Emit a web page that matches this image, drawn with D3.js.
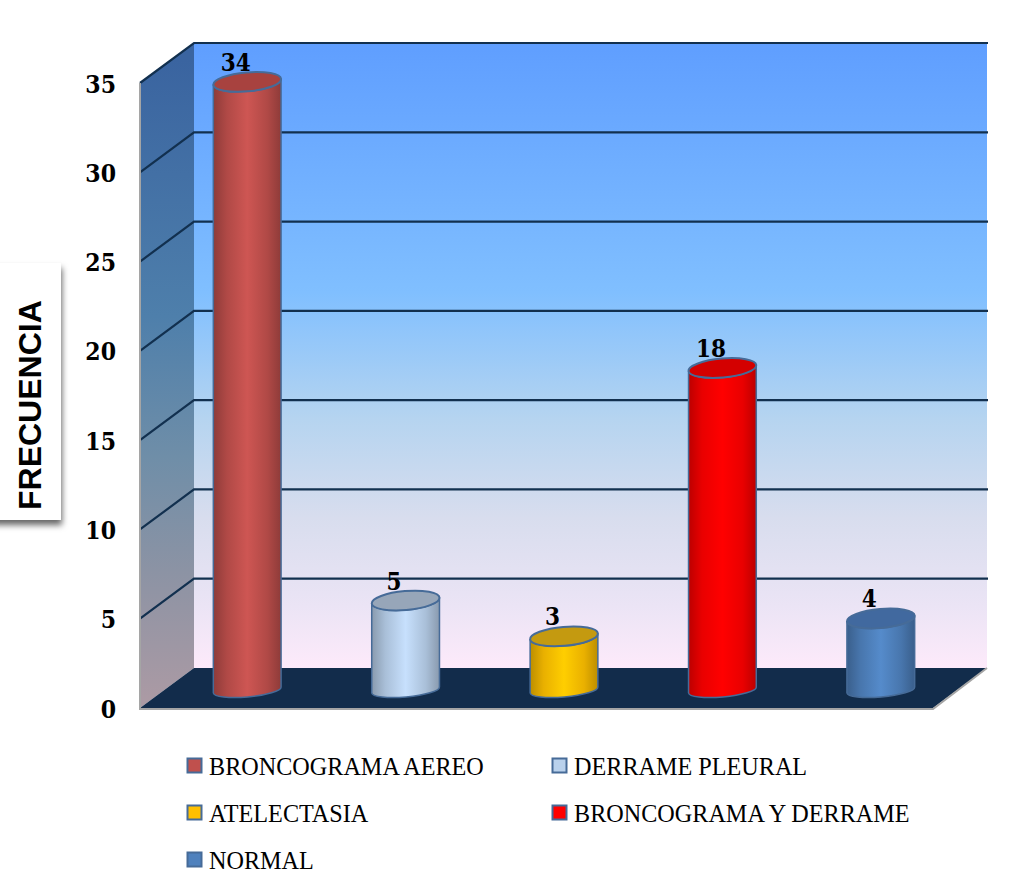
<!DOCTYPE html>
<html>
<head>
<meta charset="utf-8">
<script src="https://cdn.jsdelivr.net/npm/d3@7"></script>
<style>
html,body{margin:0;padding:0;background:#fff;}
svg{display:block;}
</style>
</head>
<body>
<svg id="chart" width="1013" height="892"></svg>
<script>
// Pulmonary findings and how often each was recorded
const categories = ["BRONCOGRAMA AEREO", "DERRAME PLEURAL", "ATELECTASIA", "BRONCOGRAMA Y DERRAME", "NORMAL"];
const frequencies = [34, 5, 3, 18, 4];
const yTicks = [0, 5, 10, 15, 20, 25, 30, 35];
const axisTitle = "FRECUENCIA";
const barColors = ["#c0504d", "#b9d1ec", "#ffc000", "#ff0000", "#4f81bd"];
const barTops = ["#a8423f", "#97a6b9", "#c49a10", "#d40000", "#41699f"];

const svg = d3.select("#chart");
const defs = svg.append("defs");
const gridColor = "#12304f";
const outline = "#466b98";
const numberFont = "'DejaVu Serif Condensed', 'DejaVu Serif'";

// Depth of the 3D box: how far the back wall sits from the front plane
const depth = {dx: 54, dy: -40};

const yFront = d3.scaleLinear().domain([0, 35]).range([708, 83]);
const yBack = v => yFront(v) + depth.dy;
const yBar = d3.scaleLinear().domain([0, 35]).range([690, 64]);
const x = d3.scaleBand().domain(categories).range([168, 960]).padding(0);

// Wall gradients
function verticalGradient(id, stops, y1, y2) {
  const g = defs.append("linearGradient").attr("id", id)
    .attr("gradientUnits", "userSpaceOnUse")
    .attr("x1", 0).attr("x2", 0).attr("y1", y1).attr("y2", y2);
  stops.forEach(([o, c]) => g.append("stop").attr("offset", o).attr("stop-color", c));
}
verticalGradient("wallBack", [
  [0, "#5f9eff"], [0.4, "#80bfff"], [0.6, "#b5d4f0"], [0.76, "#d8ddee"], [0.9, "#ebe4f5"], [1, "#fdeafa"]
], 42, 668);
verticalGradient("wallSide", [
  [0, "#3a64a0"], [0.4, "#4e7fab"], [0.62, "#6f8ea8"], [0.8, "#8c93a4"], [1, "#ab9aa4"]
], 60, 700);

const x0 = 140, x1 = 933;
const polygon = pts => "M" + pts.map(p => p.join(",")).join("L") + "Z";

svg.append("path").attr("fill", "url(#wallBack)")
  .attr("d", polygon([[x0 + depth.dx, yBack(35)], [x1 + depth.dx, yBack(35)], [x1 + depth.dx, yBack(0)], [x0 + depth.dx, yBack(0)]]));
svg.append("path").attr("fill", "url(#wallSide)")
  .attr("d", polygon([[x0, yFront(35)], [x0 + depth.dx, yBack(35)], [x0 + depth.dx, yBack(0)], [x0, yFront(0)]]));

// Grid lines running along the side wall and across the back wall
const grid = svg.append("g").attr("fill", "none").attr("stroke", gridColor).attr("stroke-width", 2.2);
grid.selectAll("path").data(yTicks.filter(t => t > 0)).join("path")
  .attr("d", t => `M${x0},${yFront(t)}L${x0 + depth.dx},${yBack(t)}L${x1 + depth.dx + 1},${yBack(t)}`);

// Floor with its pale front and left edges
svg.append("path").attr("fill", "#122c4b")
  .attr("d", polygon([[x0, yFront(0)], [x0 + depth.dx, yBack(0)], [x1 + depth.dx, yBack(0)], [x1, yFront(0)]]));
svg.append("path").attr("fill", "none").attr("stroke", "#a5a5a5").attr("stroke-width", 2)
  .attr("d", `M${x0},${yFront(35)}L${x0},${yFront(0) + 1}L${x1},${yFront(0) + 1}L${x1 + depth.dx},${yBack(0)}`);

// Cylinders
const tilt = -5, topRy = 9.5, baseRy = 7;
const rad = tilt * Math.PI / 180;

categories.forEach((c, i) => {
  const base = d3.color(barColors[i]);
  const g = defs.append("linearGradient").attr("id", "bar" + i);
  [[0, base.darker(0.85)], [0.2, base.darker(0.25)], [0.5, base.brighter(0.2)], [0.8, base.darker(0.25)], [1, base.darker(0.85)]]
    .forEach(([o, col]) => g.append("stop").attr("offset", o).attr("stop-color", col));
});

const bars = svg.append("g").selectAll("g").data(categories).join("g");
bars.each(function (c, i) {
  const sel = d3.select(this);
  const cx = x(c) + x.bandwidth() / 2;
  const rx = 34;
  const yTop = yBar(frequencies[i]), yBase = yBar(0);
  const ex = rx * Math.cos(rad), ey = rx * Math.sin(rad);
  sel.append("path")
    .attr("fill", `url(#bar${i})`).attr("stroke", outline).attr("stroke-width", 1.5)
    .attr("d", `M${cx - ex},${yTop - ey}L${cx - ex},${yBase - ey}` +
               `A${rx},${baseRy} ${tilt} 0 0 ${cx + ex},${yBase + ey}` +
               `L${cx + ex},${yTop + ey}` +
               `A${rx},${topRy} ${tilt} 0 1 ${cx - ex},${yTop - ey}Z`);
  sel.append("ellipse")
    .attr("rx", rx).attr("ry", topRy)
    .attr("transform", `translate(${cx},${yTop}) rotate(${tilt})`)
    .attr("fill", barTops[i]).attr("stroke", outline).attr("stroke-width", 2);
  sel.append("text")
    .attr("x", cx - 11.5).attr("y", yTop - 11)
    .attr("text-anchor", "middle")
    .attr("font-family", numberFont).attr("font-weight", "bold").attr("font-size", 24)
    .attr("fill", "#000").text(frequencies[i]);
});

// Value axis on the front plane
const axis = d3.axisLeft(yFront).tickValues(yTicks).tickSize(0).tickPadding(0);
const axisG = svg.append("g").attr("transform", "translate(116,0)").call(axis);
axisG.select(".domain").remove();
axisG.selectAll("text")
  .attr("font-family", numberFont).attr("font-weight", "bold").attr("font-size", 24.5)
  .attr("fill", "#000").attr("dy", "0.37em");

// Axis title on a white card with a soft shadow falling below it
const shadow = defs.append("filter").attr("id", "cardShadow")
  .attr("x", "-20%").attr("y", "-10%").attr("width", "150%").attr("height", "120%");
shadow.append("feDropShadow").attr("dx", 1).attr("dy", 5).attr("stdDeviation", 3)
  .attr("flood-color", "#000").attr("flood-opacity", 0.6);
svg.append("rect").attr("x", -20).attr("y", 263).attr("width", 81).attr("height", 257)
  .attr("fill", "#fff").attr("filter", "url(#cardShadow)");
svg.append("text")
  .attr("transform", "translate(41,510) rotate(-90)")
  .attr("font-family", "'Liberation Sans'").attr("font-weight", "bold").attr("font-size", 32)
  .attr("fill", "#000").text(axisTitle);

// Legend: two columns, filled row by row
const legendColumns = d3.scaleOrdinal().domain([0, 1]).range([187.5, 552.5]);
const legendRows = d3.scalePoint().domain([0, 1, 2]).range([758.5, 852.5]);
const legend = svg.append("g").selectAll("g").data(categories).join("g")
  .attr("transform", (c, i) => `translate(${legendColumns(i % 2)},${legendRows(Math.floor(i / 2))})`);
legend.append("rect").attr("width", 14).attr("height", 14)
  .attr("fill", (c, i) => barColors[i]).attr("stroke", outline).attr("stroke-width", 2);
legend.append("text").attr("x", 21.5).attr("y", 16.5)
  .attr("font-family", "'Liberation Serif'").attr("font-size", 24.2)
  .attr("fill", "#000").text(c => c);
</script>
</body>
</html>
